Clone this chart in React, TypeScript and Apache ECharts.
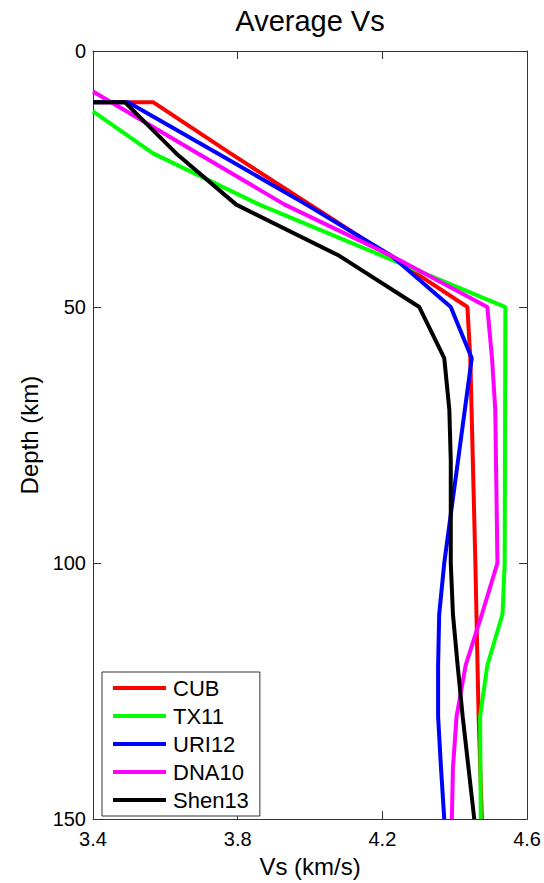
import React, { useEffect, useRef } from "react";
import * as echarts from "echarts";

const FONT = '"Liberation Sans", Arial, Helvetica, sans-serif';

const seriesNames = ["CUB", "TX11", "URI12", "DNA10", "Shen13"];
const seriesColors = ["#ff0000", "#00ff00", "#0000ff", "#ff00ff", "#000000"];

const xTicks = [3.4, 3.8, 4.2, 4.6];
const yTicks = [0, 50, 100, 150];

const cubDepth = [10, 10, 20, 30, 40, 50, 60, 100, 130, 150];
const cubVs = [3.4, 3.566, 3.78, 4.0, 4.22, 4.435, 4.443, 4.457, 4.466, 4.475];

const tx11Depth = [11.8, 20, 30, 40, 50, 100, 110, 120, 130, 150];
const tx11Vs = [3.4, 3.566, 3.86, 4.2, 4.54, 4.538, 4.532, 4.49, 4.47, 4.472];

const uri12Depth = [10, 10, 20, 30, 40, 50, 60, 100, 110, 120, 130, 140, 150];
const uri12Vs = [3.4, 3.497, 3.745, 3.99, 4.225, 4.389, 4.447, 4.371, 4.357, 4.354, 4.354, 4.362, 4.371];

const dna10Depth = [7.9, 20, 30, 40, 50, 60, 70, 100, 110, 120, 130, 140, 150];
const dna10Vs = [3.4, 3.69, 3.93, 4.225, 4.49, 4.503, 4.512, 4.518, 4.475, 4.43, 4.405, 4.395, 4.392];

const shen13Depth = [10, 10, 20, 30, 40, 50, 60, 70, 80, 100, 110, 120, 130, 140, 150];
const shen13Vs = [3.4, 3.488, 3.63, 3.796, 4.081, 4.302, 4.371, 4.385, 4.389, 4.389, 4.395, 4.408, 4.422, 4.438, 4.454];

const depths = [cubDepth, tx11Depth, uri12Depth, dna10Depth, shen13Depth];
const velocities = [cubVs, tx11Vs, uri12Vs, dna10Vs, shen13Vs];

export default function App() {
  const ref = useRef<HTMLDivElement>(null);
  useEffect(() => {
    if (!ref.current) return;
    const chart = echarts.init(ref.current, null, { renderer: "svg" });
    const frameColor = "#333";
    const axisCommon = {
      type: "value",
      splitLine: { show: false },
      axisLine: { show: true, onZero: false, lineStyle: { color: frameColor, width: 1 } },
    };
    const option = {
      animation: false,
      backgroundColor: "#fff",
      textStyle: { fontFamily: FONT },
      graphic: [
        {
          type: "text",
          x: 310,
          y: 21,
          style: {
            text: "Average Vs",
            font: `29px ${FONT}`,
            fill: "#000",
            align: "center",
            verticalAlign: "middle",
          },
        },
      ],
      grid: { left: 93, top: 51, width: 435, height: 774 },
      xAxis: [
        {
          ...axisCommon,
          min: 3.4,
          max: 4.6,
          position: "bottom",
          name: "Vs (km/s)",
          nameLocation: "middle",
          nameGap: 30,
          nameTextStyle: { fontSize: 24, color: "#000", fontFamily: FONT },
          axisTick: { show: true, inside: true, length: 8, customValues: xTicks, lineStyle: { color: frameColor } },
          axisLabel: {
            customValues: xTicks,
            formatter: (v: number) => v.toFixed(1),
            fontSize: 20,
            color: "#000",
            margin: 10,
            fontFamily: FONT,
          },
        },
        {
          ...axisCommon,
          min: 3.4,
          max: 4.6,
          position: "top",
          axisTick: { show: true, inside: true, length: 8, customValues: xTicks, lineStyle: { color: frameColor } },
          axisLabel: { show: false },
        },
      ],
      yAxis: [
        {
          ...axisCommon,
          min: 0,
          max: 150,
          interval: 50,
          inverse: true,
          position: "left",
          name: "Depth (km)",
          nameLocation: "middle",
          nameGap: 52,
          nameTextStyle: { fontSize: 24, color: "#000", fontFamily: FONT },
          axisTick: { show: true, inside: true, length: 8, customValues: yTicks, lineStyle: { color: frameColor } },
          axisLabel: { customValues: yTicks, fontSize: 20, color: "#000", margin: 7, fontFamily: FONT },
        },
        {
          ...axisCommon,
          min: 0,
          max: 150,
          interval: 50,
          inverse: true,
          position: "right",
          axisTick: { show: true, inside: true, length: 8, customValues: yTicks, lineStyle: { color: frameColor } },
          axisLabel: { show: false },
        },
      ],
      legend: {
        orient: "vertical",
        left: 102,
        top: 672,
        padding: [5, 11, 5, 11],
        itemWidth: 53,
        itemHeight: 4,
        itemGap: 6,
        icon: "rect",
        borderColor: "#333",
        borderWidth: 1,
        backgroundColor: "#fff",
        textStyle: { fontSize: 22, color: "#000", fontFamily: FONT, padding: [0, 0, 0, 2] },
        data: seriesNames,
      },
      series: seriesNames.map((name, i) => ({
        name,
        type: "line",
        xAxisIndex: 0,
        yAxisIndex: 0,
        color: seriesColors[i],
        symbol: "none",
        clip: true,
        itemStyle: { color: seriesColors[i] },
        lineStyle: { color: seriesColors[i], width: 4 },
        data: depths[i].map((d, k) => [velocities[i][k], d]),
      })),
    };
    chart.setOption(option as any);
    return () => chart.dispose();
  }, []);
  return (
    <div
      ref={ref}
      style={{ position: "fixed", left: 0, top: 0, width: 544, height: 883, background: "#fff" }}
    />
  );
}
